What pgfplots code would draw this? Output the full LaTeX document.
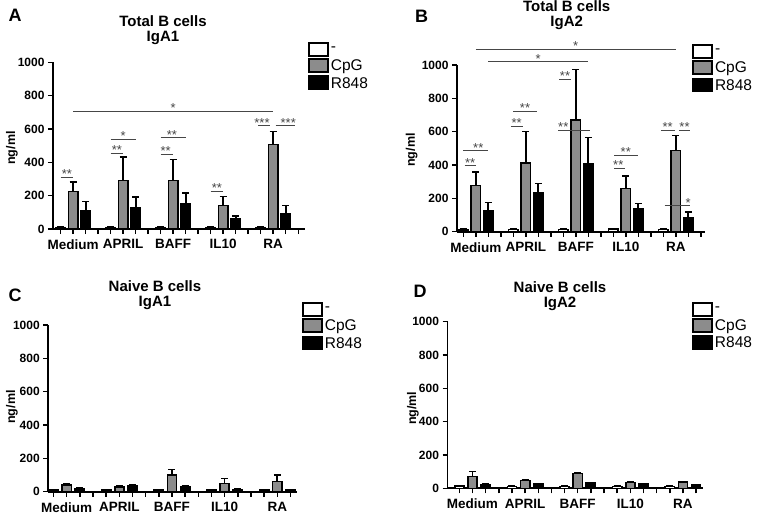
\documentclass[border=0pt]{standalone}
\usepackage{pgfplots}
\pgfplotsset{compat=1.18}
\usepackage{fontspec}
\setmainfont{Liberation Sans}
\definecolor{pgray}{RGB}{140,140,140}
\definecolor{sig}{RGB}{70,70,70}
\newcommand{\fs}[1]{\fontsize{#1}{#1}\selectfont}
\newcommand{\sigl}[5]{%
  \draw[sig, line width=0.9pt] (axis cs:#1,#3) -- (axis cs:#2,#3);
  \node[anchor=base, yshift=-1.5pt, inner sep=0pt, text=sig, font=\fs{13}] at (axis cs:#4,#3) {#5};}
\pgfplotsset{
  prism/.style={
    scale only axis,
    anchor=south west,
    height=166.7pt,
    ymin=0, ymax=1000,
    ytick={0,200,400,600,800,1000},
    axis x line*=bottom, axis y line*=left,
    axis line style={line width=1.7pt,-},
    tick style={line width=1.5pt, black},
    major tick length=5pt,
    tick align=outside,
    clip=false,
    /pgf/number format/assume math mode=true,
    /pgf/number format/1000 sep={},
    yticklabel style={font=\bfseries\fs{12}},
    xticklabel style={font=\bfseries\fs{13.5}, yshift=-2pt},
    xticklabels={,Medium,,,,APRIL,,,,BAFF,,,,IL10,,,,RA,,},
    ylabel={ng/ml},
    legend style={draw=none, fill=none, font=\fs{15.5}, row sep=1pt, inner sep=0pt, cells={anchor=west}},
  },
  ylab/.style 2 args={every axis y label/.style={at={(axis description cs:#1,#2)}, rotate=90, anchor=center, font=\bfseries\fs{12.5}}},
  pbar/.style={ybar, bar width=#1, bar shift=0pt, draw=black, line width=1.6pt,
    legend image code/.code={\draw[line width=1.7pt,##1] (0pt,-6pt) rectangle (19pt,7pt);},
    error bars/y dir=plus, error bars/y explicit,
    error bars/error bar style={line width=1.6pt, black},
    error bars/error mark options={rotate=90, line width=1.6pt, mark size=3.5pt, black}},
}
\begin{document}
\begin{tikzpicture}[x=1pt,y=1pt]
\path[use as bounding box] (0,0) rectangle (760,515);

% ---------------- Panel A ----------------
\begin{axis}[prism, at={(53pt,286pt)}, width=252pt, xmin=0.384, xmax=20.54,
  xtick={1,...,20}, ylab={-0.163}{0.486},
  legend style={at={(axis description cs:1.012,1.122)}, anchor=north west}]
\addplot[pbar=0.75, fill=white] coordinates {(1,10) +- (0,3) (5,10) +- (0,3) (9,10) +- (0,3) (13,10) +- (0,3) (17,10) +- (0,3)};
\addplot[pbar=0.75, fill=pgray] coordinates {(2,224) +- (0,58) (6,292) +- (0,140) (10,292) +- (0,126) (14,142) +- (0,52) (18,508) +- (0,76)};
\addplot[pbar=0.75, fill=black] coordinates {(3,112) +- (0,52) (7,128) +- (0,64) (11,154) +- (0,62) (15,60) +- (0,18) (19,94) +- (0,48)};
\legend{-,CpG,R848}
\sigl{1}{2}{312}{1.5}{**}
\sigl{2}{18}{708}{10}{*}
\sigl{5}{6}{454}{5.5}{**}
\sigl{5}{7}{540}{6}{*}
\sigl{9}{10}{450}{9.4}{**}
\sigl{9}{11}{548}{9.9}{**}
\sigl{13}{14}{228}{13.5}{**}
\sigl{16.8}{17.75}{620}{17.1}{***}
\sigl{18.2}{19.7}{620}{19.2}{***}
\end{axis}

% ---------------- Panel B ----------------
\begin{axis}[prism, at={(457pt,283.3pt)}, width=248pt, xmin=0.5, xmax=20.34,
  xtick={1,...,20}, ylab={-0.183}{0.49},
  legend style={at={(axis description cs:0.948,1.126)}, anchor=north west}]
\addplot[pbar=0.75, fill=white] coordinates {(1,12) +- (0,3) (5,14) +- (0,3) (9,14) +- (0,3) (13,16) +- (0,3) (17,14) +- (0,3)};
\addplot[pbar=0.75, fill=pgray] coordinates {(2,276) +- (0,82) (6,412) +- (0,188) (10,670) +- (0,304) (14,260) +- (0,74) (18,486) +- (0,90)};
\addplot[pbar=0.75, fill=black] coordinates {(3,126) +- (0,50) (7,232) +- (0,58) (11,410) +- (0,154) (15,136) +- (0,34) (19,86) +- (0,32)};
\legend{-,CpG,R848}
\sigl{2}{18}{1094}{10}{*}
\sigl{3}{11}{1020}{7}{*}
\sigl{1.1}{2}{396}{1.55}{**}
\sigl{1}{3}{486}{2.2}{**}
\sigl{4.8}{5.75}{634}{5.27}{**}
\sigl{5}{6.9}{722}{5.94}{**}
\sigl{8.66}{9.6}{916}{9.14}{**}
\sigl{8.6}{11.1}{610}{9.0}{**}
\sigl{13.07}{13.9}{380}{13.4}{**}
\sigl{13.07}{15}{460}{14.0}{**}
\sigl{16.8}{17.9}{610}{17.35}{**}
\sigl{18.25}{19.1}{610}{18.7}{**}
\sigl{17.1}{19.1}{156}{19.0}{*}
\end{axis}

% ---------------- Panel C ----------------
\begin{axis}[prism, at={(48.3pt,23.3pt)}, width=248.7pt, xmin=0.6, xmax=19.5,
  xtick={1,...,19}, ylab={-0.146}{0.508},
  legend style={at={(axis description cs:1.02,1.138)}, anchor=north west}]
\addplot[pbar=0.7, fill=white] coordinates {(1,12) +- (0,2) (5,10) +- (0,2) (9,10) +- (0,2) (13,10) +- (0,2) (17,10) +- (0,2)};
\addplot[pbar=0.7, fill=pgray] coordinates {(2,40) +- (0,6) (6,30) +- (0,4) (10,100) +- (0,34) (14,50) +- (0,30) (18,62) +- (0,38)};
\addplot[pbar=0.7, fill=black] coordinates {(3,20) +- (0,4) (7,34) +- (0,6) (11,30) +- (0,6) (15,14) +- (0,2) (19,10) +- (0,2)};
\legend{-,CpG,R848}
\end{axis}

% ---------------- Panel D ----------------
\begin{axis}[prism, at={(447.5pt,26.7pt)}, width=255.8pt, xmin=0.1, xmax=19.55,
  xtick={1,...,19}, ylab={-0.135}{0.48},
  legend style={at={(axis description cs:0.956,1.118)}, anchor=north west}]
\addplot[pbar=0.7, fill=white] coordinates {(1,14) +- (0,2) (5,12) +- (0,2) (9,12) +- (0,2) (13,12) +- (0,2) (17,12) +- (0,2)};
\addplot[pbar=0.7, fill=pgray] coordinates {(2,70) +- (0,30) (6,48) +- (0,6) (10,88) +- (0,6) (14,34) +- (0,4) (18,38) +- (0,4)};
\addplot[pbar=0.7, fill=black] coordinates {(3,24) +- (0,4) (7,26) +- (0,2) (11,32) +- (0,4) (15,26) +- (0,2) (19,22) +- (0,2)};
\legend{-,CpG,R848}
\end{axis}

% ---------------- Titles and panel letters ----------------
\node[align=center, font=\bfseries\fs{15}] at (163,485) {Total B cells\\IgA1};
\node[align=center, font=\bfseries\fs{15}] at (566.7,500) {Total B cells\\IgA2};
\node[align=center, font=\bfseries\fs{15}] at (155,219.6) {Naive B cells\\IgA1};
\node[align=center, font=\bfseries\fs{15}] at (560,218.7) {Naive B cells\\IgA2};
\node[font=\bfseries\fs{18}] at (15,500) {A};
\node[font=\bfseries\fs{18}] at (421.7,499) {B};
\node[font=\bfseries\fs{18}] at (15,220) {C};
\node[font=\bfseries\fs{18}] at (420,223.3) {D};
\end{tikzpicture}
\end{document}
